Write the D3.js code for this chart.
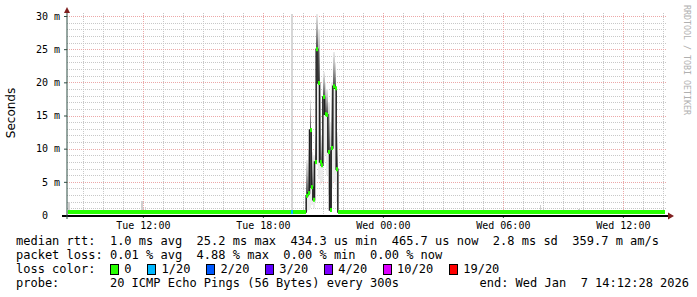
<!DOCTYPE html>
<html>
<head>
<script src="https://d3js.org/d3.v7.min.js"></script>
<style>
  body { margin: 0; background: #fff; }
  text { font-family: "DejaVu Sans Mono", monospace; white-space: pre; }
</style>
</head>
<body>
<svg width="697" height="297"></svg>
<script>
var parse = d3.timeParse("%Y-%m-%d %H:%M:%S");
var startTime = parse("2026-01-06 08:12:28");
var endTime = parse("2026-01-07 14:12:28");
var yTicks = [0, 5, 10, 15, 20, 25, 30];
var xTicks = ["2026-01-06 12:00:00", "2026-01-06 18:00:00", "2026-01-07 00:00:00",
              "2026-01-07 06:00:00", "2026-01-07 12:00:00"];

// quiet periods: median rtt in ms
var baseFrom = ["2026-01-06 08:15:00", "2026-01-06 21:45:00"];
var baseTo = ["2026-01-06 20:10:00", "2026-01-07 14:05:00"];
var baseMedian = [0.45, 0.45];

// the busy evening, 5 minute steps (ms)
var spikeStart = "2026-01-06 20:10:00";
var spikeMedian = [2.9, 3.3, 12.8, 4.2, 2.3, 8.0, 25.0, 19.9, 8.0, 7.5, 17.8, 15.2, 15.1, 9.5, 0.75, 10.1, 19.4, 19.1, 6.9];
var spikeMin = [0.6, 0.8, 1.0, 1.5, 1.0, 2.0, 7.5, 5.5, 4.5, 5.0, 8.0, 9.0, 6.0, 3.0, 0.6, 4.0, 5.0, 4.5, 2.0];
var spikeMax = [8.3, 10, 17.3, 9.5, 9.0, 12, 30.5, 28, 20, 12, 21.5, 20, 19, 17, 14, 20, 24.5, 23, 12.5];

// isolated smoke blips on the quiet line
var blipTimes = ["2026-01-06 08:15:00", "2026-01-06 11:35:00", "2026-01-06 11:55:00", "2026-01-06 12:05:00",
                 "2026-01-06 13:25:00", "2026-01-06 19:25:00", "2026-01-07 07:50:00", "2026-01-07 09:45:00"];
var blipMax = [1.95, 0.8, 2.1, 1.2, 0.8, 31, 1.5, 0.9];

// packet loss steps
var lossTimes = ["2026-01-06 19:25:00"];
var lossLevel = ["1/20"];

var lossNames = ["0", "1/20", "2/20", "3/20", "4/20", "10/20", "19/20"];
var lossColors = ["#26ff00", "#00b8ff", "#0059ff", "#5e00ff", "#7e00ff", "#dd00ff", "#ff0000"];

var legendRows = [
  "median rtt:  1.0 ms avg  25.2 ms max  434.3 us min  465.7 us now  2.8 ms sd  359.7 m am/s",
  "packet loss: 0.01 % avg  4.88 % max  0.00 % min  0.00 % now",
  "loss color:  ",
  "probe:       20 ICMP Echo Pings (56 Bytes) every 300s"
];
var endLabel = "end: Wed Jan  7 14:12:28 2026";

var svg = d3.select("svg");
var x = d3.scaleTime().domain([startTime, endTime]).range([67, 667]);
var y = d3.scaleLinear().domain([0, 30]).range([215, 16]);
var step = 5 * 60 * 1000;

// grid
var grid = svg.append("g");
d3.range(1, 31).filter(function(v) { return v % 5; }).forEach(function(v) {
  grid.append("line").attr("x1", 67).attr("x2", 667)
    .attr("y1", Math.round(y(v)) + 0.5).attr("y2", Math.round(y(v)) + 0.5)
    .attr("stroke", "#c8c8c8").attr("stroke-dasharray", "1,1");
});
d3.timeHour.range(startTime, endTime).forEach(function(t) {
  if (t.getHours() % 6 == 0) return;
  grid.append("line").attr("y1", 13).attr("y2", 215)
    .attr("x1", Math.round(x(t)) + 0.5).attr("x2", Math.round(x(t)) + 0.5)
    .attr("stroke", "#c8c8c8").attr("stroke-dasharray", "1,1");
});
yTicks.slice(1).forEach(function(v) {
  grid.append("line").attr("x1", 67).attr("x2", 667)
    .attr("y1", Math.round(y(v)) + 0.5).attr("y2", Math.round(y(v)) + 0.5)
    .attr("stroke", "#eca8a8").attr("stroke-dasharray", "1,1");
});
xTicks.forEach(function(s) {
  var t = parse(s);
  grid.append("line").attr("y1", 13).attr("y2", 215)
    .attr("x1", Math.round(x(t)) + 0.5).attr("x2", Math.round(x(t)) + 0.5)
    .attr("stroke", "#eca8a8").attr("stroke-dasharray", "1,1");
});

// smoke gradients
var defs = svg.append("defs");
function grad(id, flip) {
  var g = defs.append("linearGradient").attr("id", id).attr("x1", 0).attr("x2", 0).attr("y1", 0).attr("y2", 1);
  var stops = [["0", "#ececec"], ["0.4", "#b4b4b4"], ["1", "#4a4a4a"]];
  stops.forEach(function(s) {
    g.append("stop").attr("offset", flip ? 1 - s[0] : s[0]).attr("stop-color", s[1]);
  });
}
grad("up", false);
grad("down", true);

// build steps
var steps = [];
baseFrom.forEach(function(s, i) {
  steps.push({ t0: parse(s), t1: parse(baseTo[i]), v: baseMedian[i], loss: 0 });
});
var s0 = parse(spikeStart);
spikeMedian.forEach(function(v, i) {
  steps.push({ t0: new Date(+s0 + i * step), t1: new Date(+s0 + (i + 1) * step), v: v,
               lo: spikeMin[i], hi: spikeMax[i], loss: 0 });
});
steps.sort(function(a, b) { return a.t0 - b.t0; });

var smoke = svg.append("g").attr("shape-rendering", "crispEdges");
blipTimes.forEach(function(s, i) {
  var t = parse(s);
  var x0 = Math.round(x(t)), x1 = Math.round(x(new Date(+t + step)));
  var top = Math.max(y(blipMax[i]), 14);
  smoke.append("rect").attr("x", x0).attr("width", Math.max(x1 - x0, 1))
    .attr("y", top).attr("height", y(0.45) - top)
    .attr("fill", blipMax[i] > 30 ? "#d6d6d6" : "#d0d0d0");
});
steps.filter(function(d) { return d.hi != null; }).forEach(function(d) {
  var x0 = Math.round(x(d.t0)), x1 = Math.round(x(d.t1));
  var top = Math.max(y(d.hi), 14);
  smoke.append("rect").attr("x", x0).attr("width", x1 - x0)
    .attr("y", top).attr("height", y(d.v) - top).attr("fill", "url(#up)");
  smoke.append("rect").attr("x", x0).attr("width", x1 - x0)
    .attr("y", y(d.v)).attr("height", y(d.lo) - y(d.v)).attr("fill", "url(#down)");
});

// median line
var pts = steps.map(function(d) { return [x(d.t0), y(d.v)]; });
var last = steps[steps.length - 1];
pts.push([x(last.t1), y(last.v)]);
svg.append("path").attr("d", d3.line().curve(d3.curveStepAfter)(pts))
  .attr("fill", "none").attr("stroke", "#202020").attr("stroke-width", 1.5);

// loss coloured median band
var band = svg.append("g");
steps.forEach(function(d) {
  var x0 = Math.round(x(d.t0)), x1 = Math.round(x(d.t1));
  band.append("rect").attr("x", x0).attr("width", Math.max(x1 - x0, 2))
    .attr("y", y(d.v) - 2).attr("height", 4).attr("fill", lossColors[d.loss]);
});
lossTimes.forEach(function(s, i) {
  var t = parse(s);
  var x0 = Math.round(x(t)), x1 = Math.round(x(new Date(+t + step)));
  band.append("rect").attr("x", x0).attr("width", Math.max(x1 - x0, 2))
    .attr("y", y(0.45) - 2).attr("height", 4).attr("fill", lossColors[lossNames.indexOf(lossLevel[i])]);
});

// axes
var yAxis = svg.append("g").attr("transform", "translate(67,0)")
  .call(d3.axisLeft(y).tickValues(yTicks).tickSize(3).tickPadding(4)
    .tickFormat(function(d) { return d == 0 ? "0\u00a0\u00a0" : d + "\u00a0m"; }));
yAxis.select(".domain").remove();
yAxis.selectAll("text").attr("font-size", 10).attr("font-family", "DejaVu Sans Mono").attr("fill", "#000");
yAxis.selectAll("line").attr("stroke", "#2c4d43");

var xAxis = svg.append("g").attr("transform", "translate(0,216)")
  .call(d3.axisBottom(x).tickValues(xTicks.map(parse)).tickSize(2).tickPadding(4)
    .tickFormat(d3.timeFormat("%a %H:%M")));
xAxis.select(".domain").remove();
xAxis.selectAll("text").attr("font-size", 10).attr("font-family", "DejaVu Sans Mono").attr("fill", "#000");
xAxis.selectAll("line").attr("stroke", "#2c4d43");

svg.append("line").attr("x1", 62).attr("x2", 668).attr("y1", 216).attr("y2", 216)
  .attr("stroke", "#000").attr("stroke-width", 2);
svg.append("line").attr("x1", 67).attr("x2", 67).attr("y1", 12).attr("y2", 219)
  .attr("stroke", "#2c4d43").attr("stroke-width", 1);
svg.append("path").attr("d", "M64,13L70,13L67,7Z").attr("fill", "#7f1f1f");
svg.append("path").attr("d", "M668,212.5L668,219.5L674,216Z").attr("fill", "#7f1f1f");

svg.append("text").attr("transform", "translate(15,113) rotate(-90)")
  .attr("text-anchor", "middle").attr("font-size", 12)
  .style("font-family", "'DejaVu Sans', sans-serif").text("Seconds");

svg.append("text").attr("transform", "translate(684,5) rotate(90)")
  .attr("font-size", 8.3).attr("fill", "#b0b0b0").text("RRDTOOL / TOBI OETIKER");

// legend
var legend = svg.append("g").attr("font-size", 12).attr("fill", "#000");
legendRows.forEach(function(r, i) {
  legend.append("text").attr("x", 16).attr("y", 245 + i * 14).text(r);
});
legend.append("text").attr("x", 689).attr("y", 287).attr("text-anchor", "end").text(endLabel);
var cw = legend.select("text").node().getComputedTextLength() / legendRows[0].length;
var cur = 16 + 13 * cw;
lossNames.forEach(function(n, i) {
  legend.append("rect").attr("x", Math.round(cur) + 0.5).attr("y", 264.5).attr("width", 8).attr("height", 10)
    .attr("fill", lossColors[i]).attr("stroke", "#000");
  legend.append("text").attr("x", cur + 2 * cw).attr("y", 273).text(n);
  cur += 2 * cw + n.length * cw + 2.15 * cw;
});
</script>
</body>
</html>
